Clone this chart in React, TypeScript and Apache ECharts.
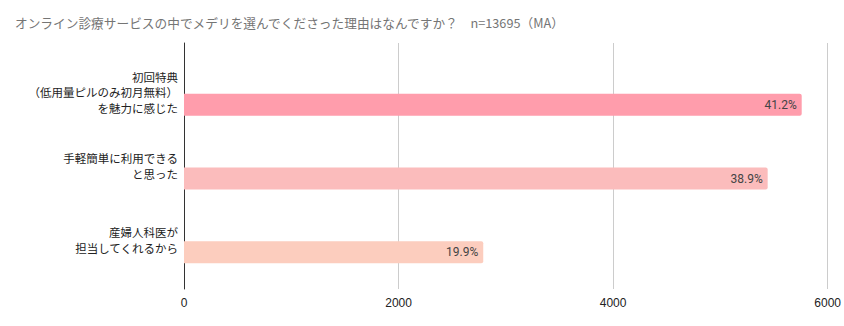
import React, { useEffect, useRef } from "react";
import * as echarts from "echarts";

const categories = [
  "初回特典\n（低用量ピルのみ初月無料）\nを魅力に感じた",
  "手軽簡単に利用できる\nと思った",
  "産婦人科医が\n担当してくれるから",
];
const values = [5755, 5438, 2788];
const barColors = ["#ff9dac", "#fbbcbc", "#fccdbe"];
const xTicks = [0, 2000, 4000, 6000];
const titleText = "オンライン診療サービスの中でメデリを選んでくださった理由はなんですか？　n=13695（MA）";

const total = values.reduce((a, b) => a + b, 0);
const FONT = "'Noto Sans CJK JP', 'Noto Sans', sans-serif";

export default function App() {
  const ref = useRef<HTMLDivElement>(null);
  useEffect(() => {
    if (!ref.current) return;
    const chart = echarts.init(ref.current, null, { renderer: "svg" });
    chart.setOption({
      animation: false,
      backgroundColor: "#ffffff",
      title: {
        text: titleText,
        left: 10,
        top: 11,
        textStyle: { fontSize: 12.7, fontWeight: "normal", color: "#757575", fontFamily: FONT },
      },
      grid: [
        { left: 184, right: 16, top: 43, bottom: 37, containLabel: false },
        { left: 184, right: 16, top: 68, bottom: 37, containLabel: false },
        { left: 184, right: 16, top: 55, bottom: 49, containLabel: false },
      ],
      xAxis: [
        {
          gridIndex: 0,
          type: "value",
          min: xTicks[0],
          max: xTicks[xTicks.length - 1],
          interval: 2000,
          axisLine: { show: false },
          axisTick: { show: false },
          splitLine: { show: true, lineStyle: { color: "#cccccc", width: 1 } },
          axisLabel: {
            color: "#222222",
            fontSize: 12,
            fontFamily: "'Liberation Sans', Arial, sans-serif",
            margin: 8,
            formatter: (v: number) => String(v),
          },
        },
        {
          gridIndex: 1,
          type: "value",
          min: xTicks[0],
          max: xTicks[xTicks.length - 1],
          interval: 2000,
          show: false,
        },
        {
          gridIndex: 2,
          type: "value",
          min: xTicks[0],
          max: xTicks[xTicks.length - 1],
          interval: 2000,
          show: false,
        },
      ],
      yAxis: [
        {
          gridIndex: 0,
          type: "category",
          data: [""],
          axisLine: { show: true, lineStyle: { color: "#333333", width: 1 } },
          axisTick: { show: false },
          axisLabel: { show: false },
          splitLine: { show: false },
        },
        {
          gridIndex: 1,
          type: "category",
          inverse: true,
          data: categories,
          axisLine: { show: false },
          axisTick: { show: false },
          axisLabel: { show: false },
        },
        {
          gridIndex: 2,
          type: "category",
          inverse: true,
          data: categories,
          axisLine: { show: false },
          axisTick: { show: false },
          axisLabel: {
            color: "#222222",
            fontSize: 11.5,
            lineHeight: 15.5,
            fontFamily: FONT,
            align: "right",
            margin: 6,
          },
        },
      ],
      series: [
        {
          type: "bar",
          xAxisIndex: 1,
          yAxisIndex: 1,
          barWidth: 22,
          data: values.map((v, i) => ({
            value: v,
            itemStyle: { color: barColors[i], borderRadius: [0, 2, 2, 0] },
          })),
          label: {
            show: true,
            position: "insideRight",
            distance: 5,
            color: "#444444",
            fontSize: 12,
            fontFamily: "Roboto, sans-serif",
            formatter: (p: any) => ((p.value / total) * 100).toFixed(1) + "%",
          },
        },
      ],
    });
    return () => chart.dispose();
  }, []);
  return <div ref={ref} style={{ width: 844, height: 326, position: "absolute", left: 0, top: 0 }} />;
}
